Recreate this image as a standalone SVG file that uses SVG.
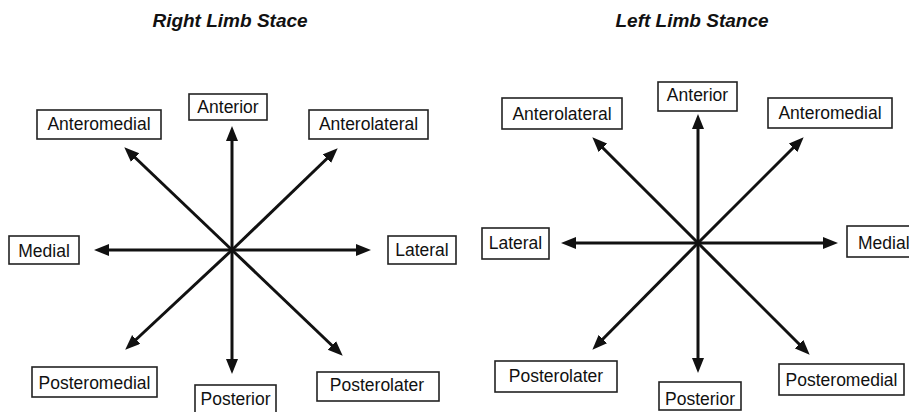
<svg xmlns="http://www.w3.org/2000/svg" width="909" height="412" viewBox="0 0 909 412">
<style>
.title{font-family:"Liberation Sans",Arial,sans-serif;font-size:19px;font-weight:bold;font-style:italic;fill:#111;text-anchor:middle}
.box{fill:#fff;stroke:#222;stroke-width:1.6}
.lbl{font-family:"Liberation Sans",Arial,sans-serif;font-size:17.5px;fill:#111;text-anchor:middle}
.arr{stroke:#111;stroke-width:3;fill:none;marker-end:url(#ah)}
</style>
<defs>
<marker id="ah" markerUnits="userSpaceOnUse" markerWidth="16" markerHeight="13" refX="6" refY="6" orient="auto">
<path d="M0,0 L15,6 L0,12 Z" fill="#111"/>
</marker>
</defs>
<rect width="909" height="412" fill="#fff"/>
<text class="title" x="230" y="27">Right Limb Stace</text>
<text class="title" x="692" y="27">Left Limb Stance</text>

<g id="connectors-right-limb">
<line class="arr" x1="232" y1="250" x2="232" y2="135"/>
<line class="arr" x1="232" y1="250" x2="232" y2="365"/>
<line class="arr" x1="232" y1="250" x2="103" y2="250"/>
<line class="arr" x1="232" y1="250" x2="362" y2="250"/>
<line class="arr" x1="232" y1="250" x2="130.8" y2="153.5"/>
<line class="arr" x1="232" y1="250" x2="331.2" y2="154.5"/>
<line class="arr" x1="232" y1="250" x2="131.8" y2="343.5"/>
<line class="arr" x1="232" y1="250" x2="336.2" y2="349.5"/>
</g>
<g id="connectors-left-limb">
<line class="arr" x1="698" y1="243" x2="698" y2="123"/>
<line class="arr" x1="698" y1="243" x2="698" y2="364"/>
<line class="arr" x1="698" y1="243" x2="570" y2="243"/>
<line class="arr" x1="698" y1="243" x2="829" y2="243"/>
<line class="arr" x1="698" y1="243" x2="598.7" y2="143.7"/>
<line class="arr" x1="698" y1="243" x2="797.3" y2="143.7"/>
<line class="arr" x1="698" y1="243" x2="598.7" y2="343.3"/>
<line class="arr" x1="698" y1="243" x2="803.3" y2="348.3"/>
</g>

<g id="r-anterior"><rect class="box" x="189" y="94" width="78" height="26"/><text class="lbl" x="228" y="113">Anterior</text></g>
<g id="r-anteromedial"><rect class="box" x="37" y="110" width="124" height="29"/><text class="lbl" x="99" y="130">Anteromedial</text></g>
<g id="r-anterolateral"><rect class="box" x="309" y="110" width="119" height="29"/><text class="lbl" x="368.5" y="130">Anterolateral</text></g>
<g id="r-medial"><rect class="box" x="9" y="236" width="70" height="28"/><text class="lbl" x="44" y="256.5">Medial</text></g>
<g id="r-lateral"><rect class="box" x="388" y="236" width="68" height="28"/><text class="lbl" x="422" y="256">Lateral</text></g>
<g id="r-posteromedial"><rect class="box" x="32" y="367" width="125" height="30"/><text class="lbl" x="94.5" y="388.5">Posteromedial</text></g>
<g id="r-posterior"><rect class="box" x="195" y="385" width="81" height="28"/><text class="lbl" x="235.5" y="405">Posterior</text></g>
<g id="r-posterolater"><rect class="box" x="317" y="372" width="122" height="29"/><text class="lbl" x="377" y="391">Posterolater</text></g>

<g id="l-anterior"><rect class="box" x="658" y="82" width="79" height="29"/><text class="lbl" x="697.5" y="101">Anterior</text></g>
<g id="l-anterolateral"><rect class="box" x="502" y="98" width="120" height="31"/><text class="lbl" x="562" y="120">Anterolateral</text></g>
<g id="l-anteromedial"><rect class="box" x="768" y="98" width="124" height="30"/><text class="lbl" x="830" y="118.5">Anteromedial</text></g>
<g id="l-lateral"><rect class="box" x="482" y="228" width="67" height="31"/><text class="lbl" x="515.5" y="249">Lateral</text></g>
<g id="l-medial"><rect class="box" x="847" y="226" width="70" height="31"/><text class="lbl" x="858" y="248.5" style="text-anchor:start">Medial</text></g>
<g id="l-posterolater"><rect class="box" x="495" y="361" width="122" height="31"/><text class="lbl" x="556" y="382">Posterolater</text></g>
<g id="l-posterior"><rect class="box" x="659" y="382" width="82" height="28"/><text class="lbl" x="700" y="405">Posterior</text></g>
<g id="l-posteromedial"><rect class="box" x="779" y="364" width="125" height="31"/><text class="lbl" x="841.5" y="386">Posteromedial</text></g>
</svg>
